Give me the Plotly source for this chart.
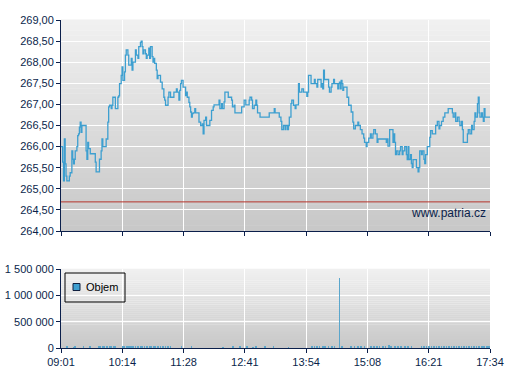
import plotly.graph_objects as go

# ---------------- data ----------------
SESSION_MINUTES = 513  # 09:01 -> 17:34
X_TICK_LABELS = ["09:01", "10:14", "11:28", "12:41", "13:54", "15:08", "16:21", "17:34"]

# price: minutes after 09:01 and last price
MINUTES = [
    0, 2, 3, 4, 5, 6, 7, 9, 10, 11, 13, 14, 15, 16, 17, 19, 20, 21, 22, 23, 24, 25, 29, 30, 31, 32, 33, 35, 39, 41,
    42, 45, 46, 48, 49, 50, 53, 54, 56, 57, 58, 60, 61, 62, 64, 65, 67, 68, 69, 70, 72, 73, 74, 76, 77, 78, 80, 81,
    82, 84, 85, 86, 88, 89, 90, 92, 93, 95, 96, 97, 98, 99, 101, 102, 103, 105, 106, 107, 109, 110, 111, 112, 114,
    115, 116, 118, 119, 121, 123, 124, 125, 127, 128, 129, 131, 133, 135, 136, 138, 139, 141, 142, 143, 144, 146,
    148, 149, 150, 151, 153, 154, 155, 156, 157, 158, 160, 161, 163, 165,
    167, 169, 170, 171, 173, 174, 177, 178, 180, 182, 183, 187, 189, 190, 192, 193, 195, 196, 198, 200, 202, 204,
    205, 207, 208, 214, 216, 217, 219, 221, 223, 225, 226, 228, 229, 231, 233, 234, 235, 237, 238, 248,
    249, 253, 255, 256, 260, 261, 263, 264, 266, 268, 269, 271, 272, 273, 275, 276, 278, 280, 281, 283, 284, 285,
    288, 290, 293, 294, 295, 296, 298, 299, 301, 303, 304, 306, 307, 309, 311, 312, 313, 314, 315, 319, 320, 321,
    323, 324, 326, 327, 329, 331, 332,
    333, 334, 335, 336, 337, 338, 341, 342, 344, 346, 347, 349, 350, 352, 355, 356, 358, 359, 360, 362, 363, 365,
    366, 368, 370, 371, 373, 374, 376, 378, 379, 387, 389, 390, 391, 393, 395, 397, 398, 399, 400, 401, 403, 405,
    406, 408, 409, 411, 413, 414, 415, 416,
    417, 418, 419, 420, 421, 424, 425, 427, 428, 429, 431, 432, 434, 435, 436, 438, 440, 441, 442, 444, 447, 448,
    450, 452, 453, 455, 456, 457, 459, 461, 463, 466, 468, 469, 471, 472, 474, 476, 477, 479, 480, 481, 485, 486,
    487, 489, 491, 492, 494, 495, 496, 498, 499, 500, 501, 503, 504, 505, 506, 507, 513,
]
PRICES = [
    266.0, 265.63, 265.19, 266.18, 265.59, 265.3, 265.19, 265.19, 265.3, 265.38, 265.9, 265.7, 265.59, 265.7, 265.9,
    266.0, 266.26, 266.3, 266.46, 266.58, 266.34, 266.5, 266.5, 265.9, 265.7, 266.1, 265.95, 265.83, 265.83, 265.63,
    265.4, 265.4, 265.7, 265.9, 266.18, 266.0, 266.0, 266.18, 266.58, 266.94, 266.98, 266.9, 266.98, 267.17, 267.17,
    266.9, 266.9, 267.17, 267.2, 267.49, 267.69, 267.89, 267.57, 267.77, 268.17, 268.29, 268.17, 267.93,
    267.93, 268.09, 267.81, 268.0, 268.0, 268.29, 268.17, 268.09, 268.37, 268.47, 268.5, 268.37, 268.2, 268.29,
    268.2, 268.09, 268.17, 268.33, 268.09, 268.37, 268.13, 268.0, 268.09, 267.97, 267.81, 267.61, 267.69, 267.69,
    267.53, 267.37, 267.17, 267.1, 266.98, 266.98, 267.17, 267.29, 267.17, 267.17, 267.29, 267.29, 267.37, 267.29,
    267.1, 267.33, 267.49, 267.57, 267.41, 267.41, 267.21, 267.29, 267.17, 267.05, 266.94, 266.82, 266.7, 266.78,
    266.8, 266.9, 266.8, 266.8, 266.58,
    266.5, 266.54, 266.3, 266.62, 266.7, 266.5, 266.5, 266.62, 266.86, 266.94, 266.99, 266.99, 267.1, 266.9, 267.02,
    266.9, 267.06, 267.29, 267.29, 267.17, 267.17, 267.1, 266.94, 266.98, 266.8, 266.8, 266.94, 266.94, 267.1,
    266.99, 266.99, 267.1, 267.17, 267.1, 266.9, 266.98, 267.1, 266.98, 266.8, 266.8, 266.7, 266.7,
    266.8, 266.8, 266.9, 266.8, 266.8, 266.7, 266.6, 266.4, 266.5, 266.4, 266.5, 266.4, 266.5, 266.7, 267.02, 267.1,
    266.98, 266.9, 266.99, 266.99, 267.49, 267.29, 267.37, 267.29, 267.29, 267.19, 267.29, 267.69, 267.69, 267.49,
    267.49, 267.59, 267.49, 267.41, 267.59, 267.59, 267.41, 267.49, 267.37, 267.81, 267.59, 267.59, 267.41, 267.29,
    267.41, 267.49, 267.59, 267.49, 267.49, 267.37, 267.49,
    267.53, 267.37, 267.57, 267.49, 267.33, 267.41, 267.41, 267.17, 266.98, 266.98, 266.82, 266.58, 266.42, 266.5,
    266.58, 266.5, 266.4, 266.4, 266.3, 266.2, 266.1, 266.0, 266.1, 266.2, 266.3, 266.2, 266.3, 266.4, 266.3, 266.1,
    266.18, 266.18, 266.1, 266.18, 266.01, 266.4, 266.4, 266.1, 266.3, 266.1, 265.81, 265.9, 265.81, 265.9, 266.0,
    265.81, 265.9, 266.0, 265.81, 265.69, 266.0, 265.69,
    265.7, 265.81, 265.6, 265.5, 265.69, 265.69, 265.5, 265.4, 265.5, 265.9, 265.81, 265.9, 265.7, 265.6, 265.81,
    266.0, 266.0, 266.22, 266.38, 266.3, 266.3, 266.5, 266.6, 266.42, 266.5, 266.6, 266.6, 266.7, 266.8, 266.8,
    266.9, 266.9, 266.8, 266.7, 266.8, 266.6, 266.7, 266.6, 266.5, 266.6, 266.4, 266.1, 266.1, 266.3, 266.4, 266.3,
    266.5, 266.4, 266.6, 266.8, 266.7, 267.02, 267.17, 266.8, 266.7, 266.8, 266.7, 266.6, 266.9, 266.7, 266.7,
]
PREV_CLOSE = 264.69

VOL_MINUTES = [
    7, 15, 17, 27, 35, 45, 47, 50, 52, 55,
    58, 60, 63, 65, 74, 76, 79, 81, 84, 86,
    89, 92, 95, 97, 100, 103, 106, 108, 111, 113,
    116, 119, 122, 125, 128, 131, 144, 156, 194, 206,
    214, 222, 230, 233, 244, 254, 272, 300, 303, 306,
    309, 313, 316, 320, 324, 327, 333, 336, 347, 351,
    355, 359, 363, 371, 374, 378, 381, 385, 388, 392,
    395, 399, 403, 407, 411, 415, 419, 431, 434, 437,
    440, 443, 446, 449, 452, 455, 458, 461, 464, 467,
    470, 473, 476, 479, 482, 485, 488, 491, 494, 497,
    500, 503, 506, 509, 512,
]
VOLUMES = [
    22000, 18000, 25000, 20000, 24000, 30000, 28000, 26000, 31000, 27000,
    29000, 25000, 32000, 27000, 30000, 26000, 33000, 28000, 31000, 27000,
    30000, 34000, 28000, 31000, 29000, 27000, 33000, 30000, 28000, 32000,
    45000, 29000, 27000, 31000, 26000, 24000, 21000, 23000, 19000, 24000,
    20000, 22000, 18000, 23000, 21000, 20000, 19000, 24000, 27000, 30000,
    26000, 28000, 25000, 29000, 31000, 27000, 1320000, 30000, 26000, 33000,
    28000, 25000, 31000, 27000, 29000, 32000, 26000, 30000, 28000, 50000,
    25000, 27000, 30000, 26000, 29000, 24000, 28000, 31000, 27000, 30000,
    25000, 29000, 32000, 26000, 30000, 28000, 31000, 27000, 29000, 33000,
    26000, 30000, 28000, 31000, 27000, 29000, 32000, 26000, 30000, 28000,
    31000, 27000, 34000, 29000, 33000,
]

PRICE_TICKS = [264.0, 264.5, 265.0, 265.5, 266.0, 266.5, 267.0, 267.5, 268.0, 268.5, 269.0]
VOL_TICKS = [0, 500000, 1000000, 1500000]
SOURCE_TEXT = "www.patria.cz"
LEGEND_NAME = "Objem"

# ---------------- style ----------------
NAVY = "#0b1f4b"
LINE_BLUE = "#3d9fd0"
BAR_BLUE = "#5aa6cc"
FONT = "Liberation Sans, Arial, sans-serif"

n_ticks = len(X_TICK_LABELS)
x_tickvals = [SESSION_MINUTES * i / (n_ticks - 1) for i in range(n_ticks)]

fig = go.Figure()

fig.add_trace(go.Scatter(
    x=MINUTES, y=PRICES, mode="lines", line=dict(color=LINE_BLUE, width=1.3, shape="hv"),
    xaxis="x", yaxis="y", showlegend=False, hoverinfo="skip",
))
fig.add_trace(go.Scatter(
    x=[0, SESSION_MINUTES], y=[PREV_CLOSE, PREV_CLOSE], mode="lines",
    line=dict(color="#b5342b", width=1), xaxis="x", yaxis="y", showlegend=False, hoverinfo="skip",
))
fig.add_trace(go.Bar(
    x=VOL_MINUTES, y=VOLUMES, width=0.9, name=LEGEND_NAME,
    marker=dict(color=BAR_BLUE, line=dict(width=0)),
    xaxis="x2", yaxis="y2", showlegend=False, hoverinfo="skip",
))

W, H = 507, 380
ml, mr, mt, mb = 61, 17, 20, 32
ph = H - mt - mb
pw = W - ml - mr
top_dom = [(348 - 231) / ph, 1.0]
bot_dom = [0.0, (348 - 269) / ph]


def px_x(v):
    return (v - ml) / pw


def px_y(v):
    return (H - mb - v) / ph


# gradient backgrounds
shapes = []
N = 40
top_c, bot_c = 240, 200
for xref, yref in (("x domain", "y domain"), ("x2 domain", "y2 domain")):
    for i in range(N):
        t = i / (N - 1)
        c = round(bot_c + (top_c - bot_c) * t)
        shapes.append(dict(
            type="rect", xref=xref, yref=yref, x0=0, x1=1,
            y0=i / N, y1=(i + 1) / N + 0.002,
            fillcolor=f"rgb({c},{c},{c})", line=dict(width=0), layer="below",
        ))

# legend box (drawn)
shapes.append(dict(type="rect", xref="paper", yref="paper",
                   x0=px_x(65), x1=px_x(125), y0=px_y(302), y1=px_y(273),
                   line=dict(color="#000000", width=1), fillcolor="rgba(0,0,0,0)", layer="above"))
shapes.append(dict(type="rect", xref="paper", yref="paper",
                   x0=px_x(73), x1=px_x(80), y0=px_y(290.5), y1=px_y(283.5),
                   line=dict(color="#102040", width=1), fillcolor="#3f9fd0", layer="above"))

axis_common = dict(
    showline=True, linecolor=NAVY, linewidth=1, ticks="outside", ticklen=4, tickcolor=NAVY,
    showgrid=True, gridcolor="white", gridwidth=1, zeroline=False, automargin=False,
    tickfont=dict(family=FONT, size=11, color=NAVY),
)

fig.update_layout(
    width=W, height=H,
    margin=dict(l=ml, r=mr, t=mt, b=mb),
    paper_bgcolor="white", plot_bgcolor="rgba(0,0,0,0)",
    shapes=shapes,
    showlegend=False,
    xaxis=dict(axis_common, domain=[0, 1], anchor="y", range=[0, SESSION_MINUTES],
               tickvals=x_tickvals, showticklabels=False),
    yaxis=dict(axis_common, domain=top_dom, anchor="x", range=[264, 269],
               tickvals=PRICE_TICKS, ticktext=[f"{v:.2f}".replace(".", ",") for v in PRICE_TICKS]),
    xaxis2=dict(axis_common, domain=[0, 1], anchor="y2", range=[0, SESSION_MINUTES],
                tickvals=x_tickvals, ticktext=X_TICK_LABELS),
    yaxis2=dict(axis_common, domain=bot_dom, anchor="x2", range=[0, 1500000],
                tickvals=VOL_TICKS, ticktext=[f"{v:,}".replace(",", " ") for v in VOL_TICKS]),
    annotations=[
        dict(text=SOURCE_TEXT, xref="x domain", yref="y domain", x=0.995, y=0.085,
             xanchor="right", yanchor="middle", showarrow=False,
             font=dict(family=FONT, size=12, color=NAVY)),
        dict(text=LEGEND_NAME, xref="paper", yref="paper", x=px_x(83.5), y=px_y(287),
             xanchor="left", yanchor="middle", showarrow=False,
             font=dict(family=FONT, size=11, color="#000000")),
    ],
    bargap=0,
)

fig.write_html(
    "out.html",
    config={"displayModeBar": False},
    post_script="document.body.style.margin='0px';document.body.style.overflow='hidden';",
)
